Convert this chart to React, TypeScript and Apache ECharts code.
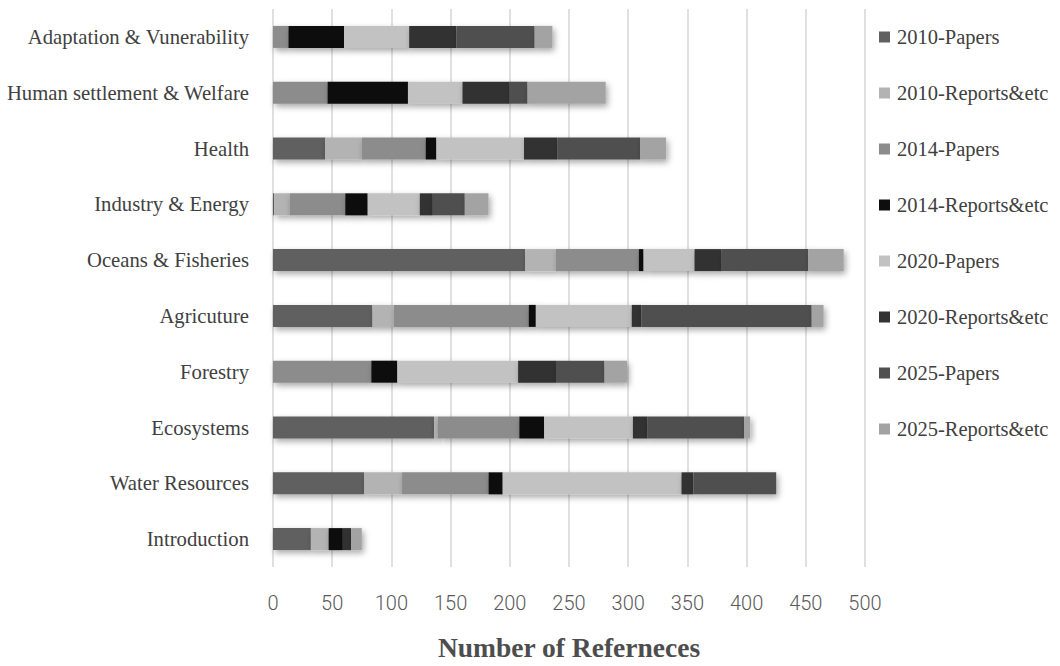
import React, { useEffect, useRef } from "react";
import * as echarts from "echarts";

const categories = [
  "Adaptation & Vunerability",
  "Human settlement & Welfare",
  "Health",
  "Industry & Energy",
  "Oceans & Fisheries",
  "Agricuture",
  "Forestry",
  "Ecosystems",
  "Water Resources",
  "Introduction",
];

const seriesNames = [
  "2010-Papers",
  "2010-Reports&etc",
  "2014-Papers",
  "2014-Reports&etc",
  "2020-Papers",
  "2020-Reports&etc",
  "2025-Papers",
  "2025-Reports&etc",
];

const p2010 = [0, 0, 44, 1, 213, 84, 0, 136, 77, 32];
const r2010 = [0, 0, 31, 13, 26, 18, 0, 3, 32, 15];
const p2014 = [13, 46, 54, 47, 70, 114, 83, 69, 73, 0];
const r2014 = [47, 68, 9, 19, 4, 6, 22, 21, 12, 12];
const p2020 = [55, 46, 74, 44, 43, 81, 102, 75, 151, 0];
const r2020 = [40, 40, 28, 11, 23, 8, 32, 12, 10, 7];
const p2025 = [66, 15, 70, 27, 73, 144, 41, 82, 70, 0];
const r2025 = [15, 66, 22, 20, 30, 10, 19, 5, 0, 9];

const seriesValues = [p2010, r2010, p2014, r2014, p2020, r2020, p2025, r2025];
const seriesColors = ["#606060", "#b3b3b3", "#8c8c8c", "#0e0e0e", "#c2c2c2", "#333333", "#505050", "#a3a3a3"];

export default function App() {
  const ref = useRef<HTMLDivElement>(null);
  useEffect(() => {
    document.body.style.margin = "0";
    const chart = echarts.init(ref.current!, undefined, { renderer: "svg" });
    chart.setOption({
      animation: false,
      backgroundColor: "#ffffff",
      grid: { left: 273, right: 195, top: 9, bottom: 97, containLabel: false },
      legend: {
        orient: "vertical",
        left: 879,
        top: 26,
        padding: 0,
        icon: "rect",
        itemWidth: 11,
        itemHeight: 11,
        itemGap: 34,
        textStyle: { fontFamily: "Liberation Serif", fontSize: 20.5, color: "#404040", lineHeight: 22, padding: [0, 0, 0, 2] },
        data: seriesNames,
      },
      xAxis: {
        type: "value",
        min: 0,
        max: 500,
        interval: 50,
        axisLine: { show: false },
        axisTick: { show: false },
        splitLine: { show: true, lineStyle: { color: "#d6d6d6", width: 1.5 } },
        axisLabel: { margin: 26, fontFamily: "Roboto", fontWeight: 300, fontSize: 20, color: "#595959" },
        name: "Number of Referneces",
        nameLocation: "middle",
        nameGap: 66,
        nameTextStyle: { fontFamily: "Liberation Serif", fontWeight: "bold", fontSize: 27.5, color: "#4d4d4d" },
      },
      yAxis: {
        type: "category",
        inverse: true,
        data: categories,
        axisLine: { show: false },
        axisTick: { show: false },
        axisLabel: { margin: 24, fontFamily: "Liberation Serif", fontSize: 20.7, color: "#404040", padding: [4, 0, 0, 0] },
      },
      series: seriesNames.map((name, i) => ({
        name,
        type: "bar",
        stack: "total",
        barWidth: 22,
        data: seriesValues[i],
        itemStyle: {
          color: seriesColors[i],
          shadowBlur: 6,
          shadowOffsetX: 2,
          shadowOffsetY: 3,
          shadowColor: "rgba(0,0,0,0.35)",
        },
      })),
    });
    return () => chart.dispose();
  }, []);
  return <div ref={ref} style={{ width: 1060, height: 666 }} />;
}
